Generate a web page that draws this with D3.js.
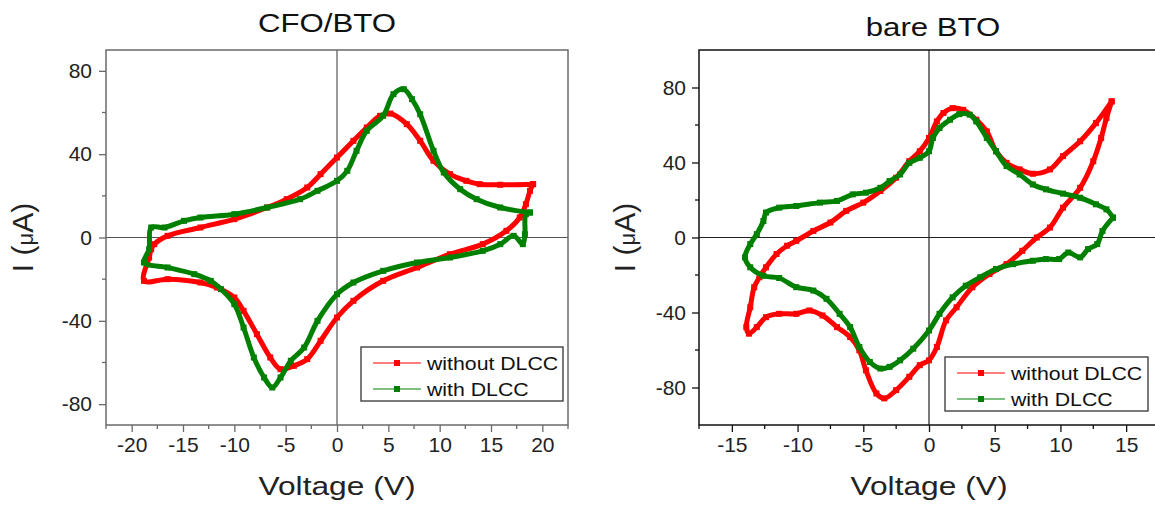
<!DOCTYPE html>
<html>
<head>
<meta charset="utf-8">
<script src="https://cdn.jsdelivr.net/npm/d3@7/dist/d3.min.js"></script>
<style>
  html, body { margin: 0; padding: 0; background: #fff; }
  svg { display: block; font-family: Arial, "Liberation Sans", sans-serif; }
</style>
</head>
<body>
<svg id="chart" width="1155" height="508"></svg>
<script>
// Cyclic I–V loops (voltage in V, current in µA)
const seriesNames = ["without DLCC", "with DLCC"];
const seriesColors = ["#ff0000", "#008000"];

// CFO/BTO, without DLCC
const cfoWithout = [
  [19.1, 25.6], [15.9, 25.3], [13.9, 25.6], [12.6, 27.2], [11.0, 30.4], [9.4, 36.8],
  [8.1, 46.4], [6.8, 54.4], [5.2, 59.5], [4.2, 58.4], [2.9, 52.8], [1.6, 46.4],
  [0.0, 38.4], [-1.6, 30.4], [-2.9, 24.0], [-4.9, 18.4], [-6.8, 14.4], [-10.0, 8.8],
  [-13.3, 4.8], [-16.5, 0.8], [-17.8, -3.2], [-18.1, -5.6], [-18.3, -9.6], [-18.8, -20.8],
  [-16.5, -20.0], [-13.3, -21.6], [-11.7, -24.0], [-10.0, -28.8], [-9.1, -35.2], [-7.8, -46.4],
  [-6.5, -57.6], [-5.5, -63.2], [-4.2, -61.6], [-2.9, -58.4], [-1.6, -49.6], [0.0, -38.4],
  [1.6, -30.4], [4.5, -20.8], [7.8, -14.4], [11.0, -8.0], [14.2, -3.2], [16.5, 3.2],
  [17.8, 9.6], [18.4, 16.0], [18.8, 22.4], [19.1, 25.6]
];

// CFO/BTO, with DLCC
const cfoWith = [
  [18.8, 12.0], [15.9, 14.4], [13.6, 18.4], [12.0, 23.2], [10.4, 31.2], [9.4, 41.6],
  [8.1, 59.2], [7.3, 66.4], [6.5, 71.2], [5.5, 68.8], [4.5, 58.4], [2.9, 51.2],
  [1.9, 41.6], [1.0, 32.0], [0.0, 27.2], [-1.9, 22.4], [-3.6, 18.4], [-6.8, 14.4],
  [-10.0, 11.2], [-13.3, 9.6], [-14.9, 8.0], [-16.8, 4.8], [-18.1, 4.8], [-18.3, -5.6],
  [-18.8, -12.0], [-16.5, -14.4], [-13.9, -17.6], [-12.3, -20.8], [-11.3, -24.8], [-10.0, -32.0],
  [-9.1, -43.2], [-8.1, -57.6], [-7.1, -67.2], [-6.3, -72.0], [-5.5, -67.2], [-4.5, -59.2],
  [-3.2, -52.8], [-1.9, -40.0], [0.0, -27.2], [1.6, -21.6], [4.5, -16.0], [7.8, -12.0],
  [11.0, -9.6], [14.2, -6.4], [15.9, -3.2], [17.2, 0.8], [18.1, -3.2], [18.3, 1.6],
  [18.4, 11.2], [18.8, 12.0]
];

// bare BTO, without DLCC
const bareWithout = [
  [13.9, 72.6], [12.7, 61.0], [11.5, 51.3], [10.2, 43.4], [9.2, 36.3], [7.9, 34.0],
  [6.9, 36.3], [5.9, 39.8], [5.1, 46.0], [4.4, 56.6], [3.6, 62.8], [2.6, 68.1],
  [1.8, 69.0], [1.1, 66.4], [0.6, 61.9], [0.0, 53.1], [-0.7, 46.0], [-1.5, 40.7],
  [-2.5, 31.9], [-3.7, 24.8], [-5.0, 18.6], [-6.3, 14.2], [-7.5, 8.0], [-8.8, 3.5],
  [-10.1, -1.8], [-10.8, -4.4], [-11.6, -8.8], [-12.4, -15.9], [-12.9, -21.2], [-13.3, -26.5],
  [-13.6, -37.2], [-13.9, -47.8], [-13.7, -51.3], [-13.1, -47.8], [-12.4, -42.5], [-11.4, -40.7],
  [-10.1, -40.7], [-9.1, -38.9], [-8.1, -41.6], [-7.0, -47.8], [-6.0, -53.1], [-5.3, -60.2],
  [-4.8, -70.8], [-4.0, -83.2], [-3.4, -85.8], [-2.5, -81.4], [-1.5, -74.3], [-0.7, -68.1],
  [0.0, -65.5], [0.6, -58.4], [1.3, -44.2], [2.1, -37.2], [3.3, -26.5], [4.6, -19.5],
  [5.9, -14.2], [7.1, -7.1], [8.2, 0.0], [9.2, 5.3], [10.2, 15.9], [11.5, 26.5],
  [12.5, 40.7], [13.1, 53.1], [13.5, 63.7], [13.9, 72.6]
];

// bare BTO, with DLCC
const bareWith = [
  [14.0, 10.6], [13.5, 15.0], [12.7, 17.7], [11.5, 21.2], [10.2, 23.4], [8.9, 25.7],
  [7.9, 28.3], [6.9, 33.6], [5.9, 38.1], [5.1, 46.0], [4.4, 53.1], [3.6, 61.9],
  [3.1, 65.5], [2.3, 65.8], [1.6, 62.8], [0.8, 58.4], [0.3, 53.1], [0.0, 46.0],
  [-0.7, 42.5], [-1.5, 39.8], [-2.2, 33.6], [-3.0, 30.1], [-3.7, 26.5], [-4.8, 23.9],
  [-5.8, 23.0], [-7.0, 19.5], [-8.3, 18.6], [-10.1, 16.8], [-11.4, 15.9], [-12.4, 13.3],
  [-12.6, 8.8], [-13.1, 1.8], [-13.6, -3.5], [-14.0, -10.6], [-13.6, -15.9], [-12.6, -20.4],
  [-11.4, -21.6], [-10.1, -26.5], [-8.8, -28.3], [-7.8, -32.7], [-6.8, -40.7], [-6.0, -47.8],
  [-5.3, -58.4], [-4.5, -66.4], [-3.7, -69.9], [-3.0, -69.0], [-2.2, -65.5], [-1.2, -59.3],
  [0.0, -49.6], [0.8, -40.7], [1.8, -31.9], [2.8, -25.7], [3.9, -21.2], [5.1, -16.8],
  [6.4, -14.2], [7.9, -12.4], [8.9, -11.5], [9.9, -11.5], [10.6, -8.0], [11.5, -10.6],
  [12.1, -6.2], [12.8, -3.5], [13.2, 3.5], [14.0, 10.6]
];

// Axis ticks
const cfoXTicks = [-20, -15, -10, -5, 0, 5, 10, 15, 20];
const cfoYTicks = [-80, -40, 0, 40, 80];
const bareXTicks = [-15, -10, -5, 0, 5, 10, 15];
const bareYTicks = [-80, -40, 0, 40, 80];

const panels = [
  {
    title: "CFO/BTO", series: [cfoWithout, cfoWith],
    xDomain: [-22.5, 22.5], yDomain: [-90, 90],
    xTicks: cfoXTicks, yTicks: cfoYTicks, xMinor: 2.5, yMinor: 20,
    left: 106, right: 568, top: 50, bottom: 425,
    frameColor: "#6a6a6a", zeroColor: "#555", yPad: 7,
    titleX: 327, titleY: 32, yLabelX: 33,
    legend: { x: 361, y: 347, w: 202, h: 54 }
  },
  {
    title: "bare BTO", series: [bareWithout, bareWith],
    xDomain: [-17.5, 17.5], yDomain: [-100, 100],
    xTicks: bareXTicks, yTicks: bareYTicks, xMinor: 2.5, yMinor: 20,
    left: 699, right: 1159, top: 50, bottom: 425,
    frameColor: "#111", zeroColor: "#222", yPad: 6,
    titleX: 933, titleY: 36, yLabelX: 635,
    legend: { x: 945, y: 357, w: 203, h: 54 }
  }
];

const svg = d3.select("#chart");

function range(a, b, step) {
  const out = [];
  for (let v = a; v <= b + 1e-9; v += step) out.push(+v.toFixed(6));
  return out;
}

// text drawn with a slight horizontal stretch
function wideText(sel, x, y, str, size, sx, anchor) {
  return sel.append("text")
    .attr("transform", `translate(${x},${y}) scale(${sx},1)`)
    .attr("text-anchor", anchor || "start")
    .attr("font-size", size).attr("fill", "#111").text(str);
}

panels.forEach(p => {
  const x = d3.scaleLinear().domain(p.xDomain).range([p.left, p.right]);
  const y = d3.scaleLinear().domain(p.yDomain).range([p.bottom, p.top]);
  const g = svg.append("g");

  // zero cross-hair
  g.append("line").attr("x1", x(0)).attr("x2", x(0)).attr("y1", p.top).attr("y2", p.bottom)
    .attr("stroke", p.zeroColor).attr("stroke-width", 1.2);
  g.append("line").attr("x1", p.left).attr("x2", p.right).attr("y1", y(0)).attr("y2", y(0))
    .attr("stroke", p.zeroColor).attr("stroke-width", 1.2);

  // loops: connecting line drawn as a band with square markers at each sample
  const line = d3.line().x(d => x(d[0])).y(d => y(d[1])).curve(d3.curveCatmullRom.alpha(0.5));
  p.series.forEach((data, i) => {
    const c = seriesColors[i];
    g.append("path").datum(data).attr("d", line)
      .attr("fill", "none").attr("stroke", c).attr("stroke-width", 5)
      .attr("stroke-linejoin", "round");
    g.selectAll(null).data(data).enter().append("rect")
      .attr("x", d => x(d[0]) - 3).attr("y", d => y(d[1]) - 3)
      .attr("width", 6).attr("height", 6).attr("fill", c);
  });

  // frame
  g.append("rect").attr("x", p.left).attr("y", p.top)
    .attr("width", p.right - p.left).attr("height", p.bottom - p.top)
    .attr("fill", "none").attr("stroke", p.frameColor).attr("stroke-width", 1.5);

  // x axis
  const xMinorTicks = range(p.xDomain[0], p.xDomain[1], p.xMinor).filter(v => !p.xTicks.includes(v));
  const xAxis = d3.axisBottom(x).tickValues(p.xTicks).tickSize(7).tickPadding(5).tickFormat(d3.format("d"));
  const xa = g.append("g").attr("transform", `translate(0,${p.bottom})`).call(xAxis);
  xa.select(".domain").remove();
  xa.selectAll(".tick line").attr("stroke", p.frameColor).attr("stroke-width", 1.3);
  xa.selectAll(".tick text").attr("font-size", 21).attr("fill", "#222")
    .attr("font-family", "Arial, 'Liberation Sans', sans-serif")
    .text(d => d < 0 ? "-" + Math.abs(d) : d);
  g.append("g").selectAll("line").data(xMinorTicks).enter().append("line")
    .attr("x1", d => x(d)).attr("x2", d => x(d)).attr("y1", p.bottom).attr("y2", p.bottom + 4)
    .attr("stroke", p.frameColor).attr("stroke-width", 1.3);

  // y axis
  const yMinorTicks = range(-80, 80, p.yMinor).filter(v => !p.yTicks.includes(v));
  const yAxis = d3.axisLeft(y).tickValues(p.yTicks).tickSize(7).tickPadding(p.yPad);
  const ya = g.append("g").attr("transform", `translate(${p.left},0)`).call(yAxis);
  ya.select(".domain").remove();
  ya.selectAll(".tick line").attr("stroke", p.frameColor).attr("stroke-width", 1.3);
  ya.selectAll(".tick text").attr("font-size", 21).attr("fill", "#222")
    .attr("font-family", "Arial, 'Liberation Sans', sans-serif")
    .text(d => d < 0 ? "-" + Math.abs(d) : d);
  g.append("g").selectAll("line").data(yMinorTicks).enter().append("line")
    .attr("x1", p.left - 4).attr("x2", p.left).attr("y1", d => y(d)).attr("y2", d => y(d))
    .attr("stroke", p.frameColor).attr("stroke-width", 1.3);

  // title
  wideText(g, p.titleX, p.titleY, p.title, 26, 1.2, "middle");

  // axis labels
  wideText(g, x(0), 495, "Voltage (V)", 26, 1.22, "middle").attr("fill", "#222");
  const yl = g.append("text").attr("transform", `translate(${p.yLabelX},${y(0)}) rotate(-90)`)
    .attr("text-anchor", "middle").attr("font-size", 30).attr("fill", "#222");
  yl.append("tspan").text("I (");
  yl.append("tspan").attr("font-size", 22).text("\u03bc");
  yl.append("tspan").text("A)");

  // legend
  const L = p.legend;
  const lg = g.append("g");
  lg.append("rect").attr("x", L.x).attr("y", L.y).attr("width", L.w).attr("height", L.h)
    .attr("fill", "#fff").attr("stroke", "#333").attr("stroke-width", 1.3);
  seriesNames.forEach((name, i) => {
    const cy = L.y + 16 + i * 26;
    lg.append("line").attr("x1", L.x + 12).attr("x2", L.x + 60).attr("y1", cy).attr("y2", cy)
      .attr("stroke", seriesColors[i]).attr("stroke-width", 1.2);
    lg.append("rect").attr("x", L.x + 36 - 3).attr("y", cy - 3).attr("width", 6).attr("height", 6)
      .attr("fill", seriesColors[i]);
    wideText(lg, L.x + 66, cy + 6.5, name, 18.5, 1.15);
  });
});
</script>
</body>
</html>
